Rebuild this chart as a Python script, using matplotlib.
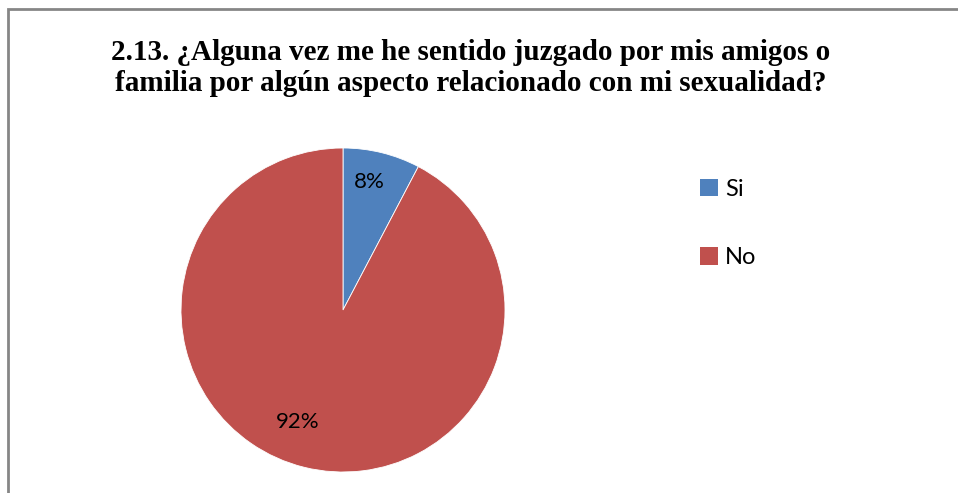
import matplotlib
matplotlib.use("Agg")
import matplotlib.pyplot as plt
from matplotlib.patches import Rectangle, Patch

categories = ["Si", "No"]
values = [7.7, 92.3]
colors = ["#4F81BD", "#C0504D"]
title = "2.13. ¿Alguna vez me he sentido juzgado por mis amigos o\nfamilia por algún aspecto relacionado con mi sexualidad?"

W, H = 958, 493
fig = plt.figure(figsize=(W/100, H/100), dpi=100)
fig.patch.set_facecolor("white")

# border (extends past right/bottom edges)
fig.add_artist(Rectangle((7.5/W, -0.1), 1.2, 1.1 - 9.5/H, transform=fig.transFigure,
                         fill=False, edgecolor="#868686", linewidth=2.0))

# pie: center (343,310), radius 162 px
r = 162
cx, cy = 343, 310
ax = fig.add_axes([(cx - r)/W, (H - cy - r)/H, 2*r/W, 2*r/H])
wedges, texts, autotexts = ax.pie(values, colors=colors, startangle=90, counterclock=False,
                                  autopct='%.0f%%', pctdistance=0.78,
                                  wedgeprops=dict(edgecolor="white", linewidth=0.6),
                                  textprops=dict(fontsize=16, family="Lato", color="black"))
autotexts[0].set_position((0.16, 0.79))
autotexts[1].set_position((-0.28, -0.69))
ax.set_xlim(-1, 1)
ax.set_ylim(-1, 1)
ax.set_aspect("equal")

fig.text(471/W, 1 - 68/H, title, ha="center", va="center", fontsize=21,
         family="Liberation Serif", fontweight="bold", linespacing=1.15)

handles = [Patch(facecolor=c, edgecolor="none") for c in colors]
fig.legend(handles, categories, loc="upper left", bbox_to_anchor=(700/W, 1 - 179/H),
           frameon=False, prop=dict(family="Lato", size=17), handlelength=0.75,
           handleheight=0.75, handletextpad=0.3, labelspacing=2.0, borderpad=0,
           borderaxespad=0)

fig.savefig("out.png", dpi=100)
